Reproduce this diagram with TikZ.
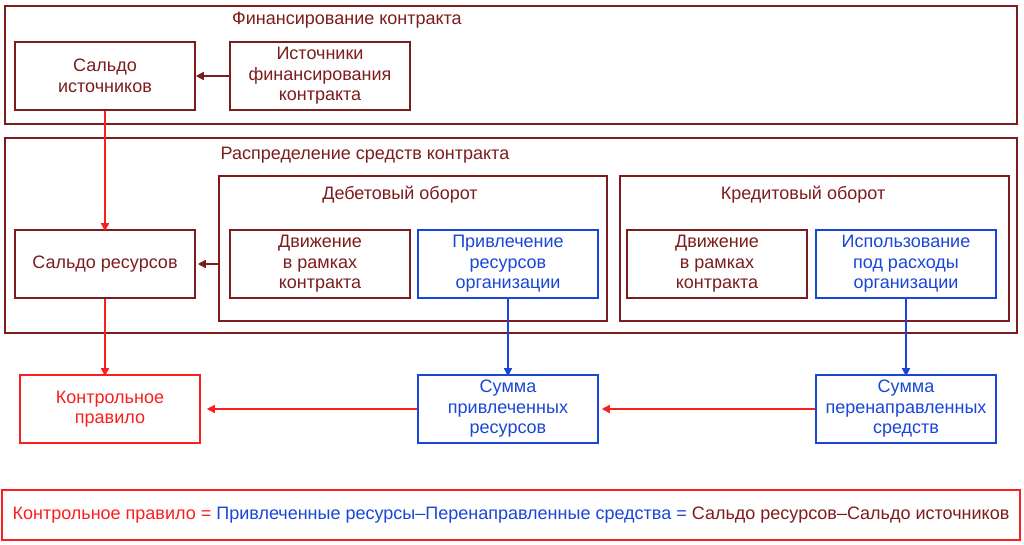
\documentclass[tikz,border=0pt]{standalone}
\usepackage{fontspec}
\setmainfont{Liberation Sans}
\usepackage{tikz}
\usetikzlibrary{arrows.meta}
\definecolor{dred}{RGB}{125,28,28}
\definecolor{lred}{RGB}{250,30,30}
\definecolor{dblue}{RGB}{25,70,215}

\begin{document}
\begin{tikzpicture}[x=1pt,y=-1pt,
	font=\fontsize{18}{20.5}\selectfont,
	box/.style={draw,line width=1.6pt,minimum width=180pt,minimum height=68pt,align=center,inner sep=0pt},
	frame/.style={draw=dred,line width=1.6pt,inner sep=0pt},
	arr/.style={line width=1.6pt,-{Triangle[length=8pt,width=8pt]}}]
	\useasboundingbox (0,0) rectangle (1024,545);
	% frames
	\path (4,5) node(fin)[frame,anchor=north west,minimum width=1012pt,minimum height=118pt]{}
		(4,137) node(raspr)[frame,anchor=north west,minimum width=1012pt,minimum height=195pt]{}
		(218,175) node(deb)[frame,anchor=north west,minimum width=388pt,minimum height=145pt]{}
		(619,175) node(kred)[frame,anchor=north west,minimum width=389pt,minimum height=145pt]{};
	\path (347,20) node(tfin)[text=dred]{Финансирование контракта}
		(365,155) node(traspr)[text=dred]{Распределение средств контракта}
		(400,195) node(tdeb)[text=dred]{Дебетовый оборот}
		(803,195) node(tkred)[text=dred]{Кредитовый оборот};
	% boxes
	\path (105,76) node(sist)[box,draw=dred,text=dred]{Сальдо\\источников}
		(320,76) node(istf)[box,draw=dred,text=dred]{Источники\\финансирования\\контракта}
		(105,264) node(sres)[box,draw=dred,text=dred]{Сальдо ресурсов}
		(320,264) node(dvd)[box,draw=dred,text=dred]{Движение\\в рамках\\контракта}
		(508,264) node(priv)[box,draw=dblue,text=dblue]{Привлечение\\ресурсов\\организации}
		(717,264) node(dvk)[box,draw=dred,text=dred]{Движение\\в рамках\\контракта}
		(906,264) node(isp)[box,draw=dblue,text=dblue]{Использование\\под расходы\\организации}
		(110,409) node(kpr)[box,draw=lred,text=lred]{Контрольное\\правило}
		(508,409) node(spr)[box,draw=dblue,text=dblue]{Сумма\\привлеченных\\ресурсов}
		(906,409) node(sper)[box,draw=dblue,text=dblue]{Сумма\\перенаправленных\\средств};
	\path (511,515) node(formula)[draw=lred,line width=1.6pt,minimum width=1018pt,minimum height=50pt,inner sep=0pt]
		{\textcolor{lred}{Контрольное правило =} \textcolor{dblue}{Привлеченные ресурсы–Перенаправленные средства =} \textcolor{dred}{Сальдо ресурсов–Сальдо источников}};
	% arrows
	\draw[arr,dred] (istf) to (sist);
	\draw[arr,dred] (deb.west |- sres.east) to ([xshift=2pt]sres.east);
	\draw[arr,lred] (sist) to ([yshift=-2pt]sres.north);
	\draw[arr,lred] (sres.south) to ([yshift=-2pt]sres.south |- kpr.north);
	\draw[arr,dblue] (priv) to ([yshift=-2pt]spr.north);
	\draw[arr,dblue] (isp) to ([yshift=-2pt]sper.north);
	\draw[arr,lred] (sper) to ([xshift=3pt]spr.east);
	\draw[arr,lred] (spr) to ([xshift=6pt]kpr.east);
\end{tikzpicture}
\end{document}
